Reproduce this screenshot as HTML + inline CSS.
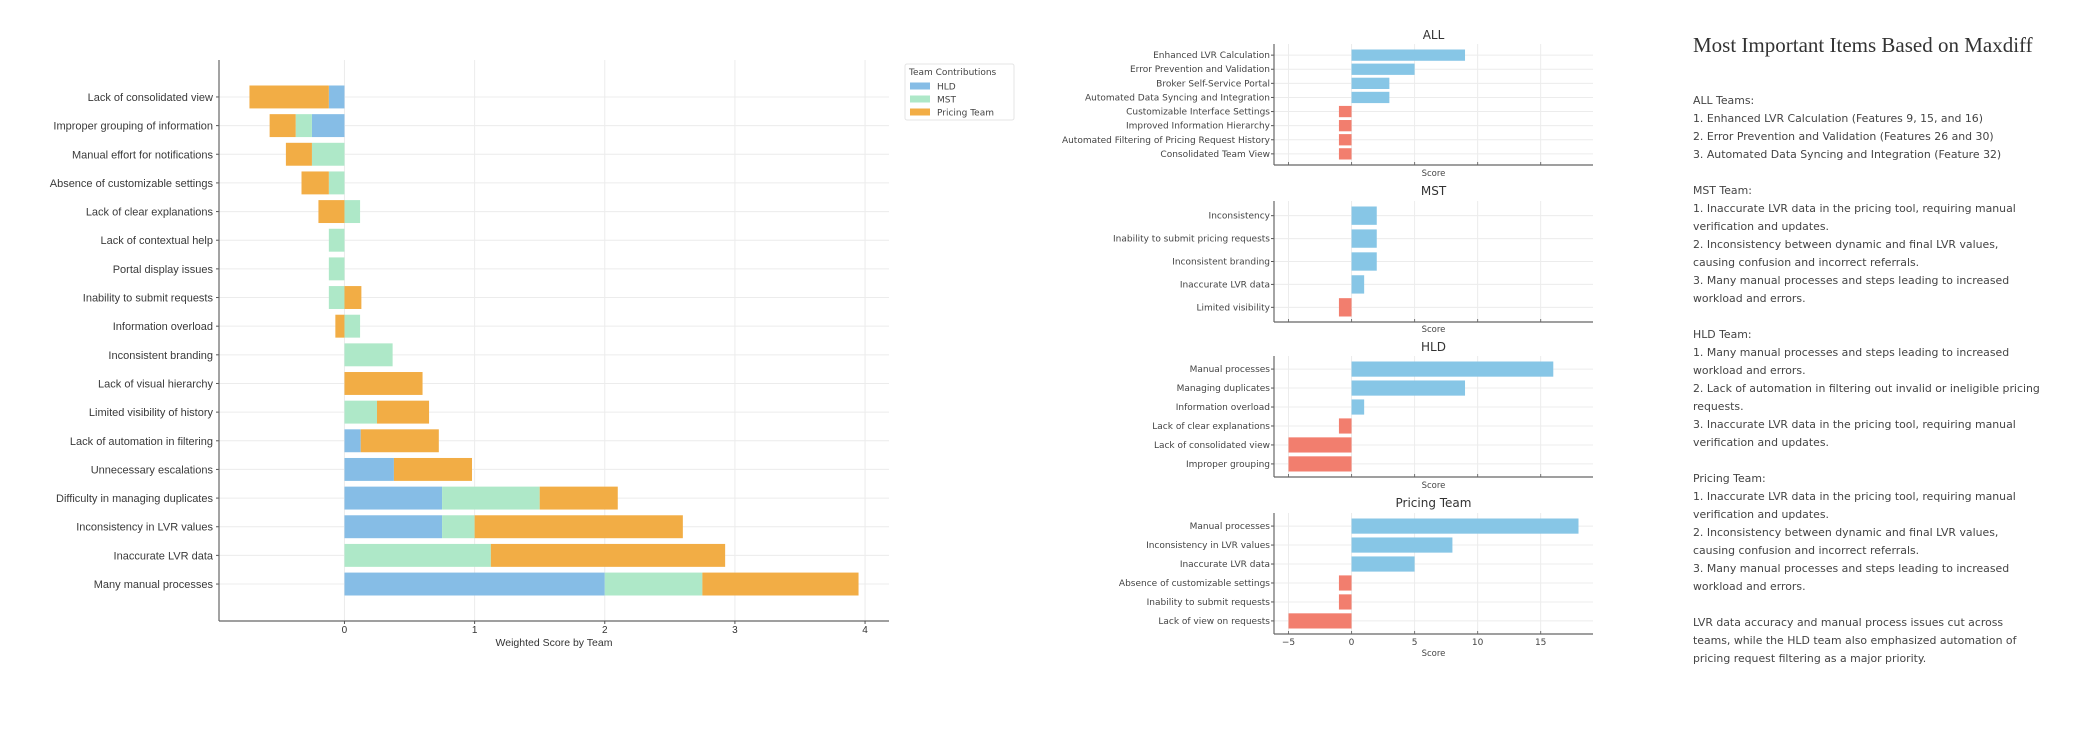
<!DOCTYPE html>
<html><head><meta charset="utf-8"><style>
body{margin:0;background:#fff;width:2099px;height:736px;overflow:hidden;position:relative}
svg{position:absolute;left:0;top:0}
#notes{position:absolute;left:1693px;top:91.5px;font-family:"DejaVu Sans",sans-serif;font-size:10.9px;line-height:18px;color:#444;white-space:pre-line}
#ttl{position:absolute;left:1693px;top:32px;font-family:"Liberation Serif",serif;font-size:21px;color:#333;line-height:26px}
</style></head><body>
<svg id="chart" width="2099" height="736"></svg>
<div id="ttl">Most Important Items Based on Maxdiff</div>
<div id="notes">ALL Teams:
1. Enhanced LVR Calculation (Features 9, 15, and 16)
2. Error Prevention and Validation (Features 26 and 30)
3. Automated Data Syncing and Integration (Feature 32)

MST Team:
1. Inaccurate LVR data in the pricing tool, requiring manual
verification and updates.
2. Inconsistency between dynamic and final LVR values,
causing confusion and incorrect referrals.
3. Many manual processes and steps leading to increased
workload and errors.

HLD Team:
1. Many manual processes and steps leading to increased
workload and errors.
2. Lack of automation in filtering out invalid or ineligible pricing
requests.
3. Inaccurate LVR data in the pricing tool, requiring manual
verification and updates.

Pricing Team:
1. Inaccurate LVR data in the pricing tool, requiring manual
verification and updates.
2. Inconsistency between dynamic and final LVR values,
causing confusion and incorrect referrals.
3. Many manual processes and steps leading to increased
workload and errors.

LVR data accuracy and manual process issues cut across
teams, while the HLD team also emphasized automation of
pricing request filtering as a major priority.</div>
<script>
const categories=["Lack of consolidated view","Improper grouping of information","Manual effort for notifications","Absence of customizable settings","Lack of clear explanations","Lack of contextual help","Portal display issues","Inability to submit requests","Information overload","Inconsistent branding","Lack of visual hierarchy","Limited visibility of history","Lack of automation in filtering","Unnecessary escalations","Difficulty in managing duplicates","Inconsistency in LVR values","Inaccurate LVR data","Many manual processes"];
const hldValues=[-0.12,-0.25,0,0,0,0,0,0,0,0,0,0,0.125,0.38,0.75,0.75,0,2.0];
const mstValues=[0,-0.125,-0.25,-0.12,0.12,-0.12,-0.12,-0.12,0.12,0.37,0,0.25,0,0,0.75,0.25,1.125,0.75];
const pricingValues=[-0.61,-0.2,-0.2,-0.21,-0.2,0,0,0.13,-0.07,0,0.6,0.4,0.6,0.6,0.6,1.6,1.8,1.2];
const mainTicks=[0,1,2,3,4];

const allLabels=["Enhanced LVR Calculation","Error Prevention and Validation","Broker Self-Service Portal","Automated Data Syncing and Integration","Customizable Interface Settings","Improved Information Hierarchy","Automated Filtering of Pricing Request History","Consolidated Team View"];
const allScores=[9,5,3,3,-1,-1,-1,-1];
const mstLabels=["Inconsistency","Inability to submit pricing requests","Inconsistent branding","Inaccurate LVR data","Limited visibility"];
const mstScores=[2,2,2,1,-1];
const hldLabels=["Manual processes","Managing duplicates","Information overload","Lack of clear explanations","Lack of consolidated view","Improper grouping"];
const hldScores=[16,9,1,-1,-5,-5];
const pricingLabels=["Manual processes","Inconsistency in LVR values","Inaccurate LVR data","Absence of customizable settings","Inability to submit requests","Lack of view on requests"];
const pricingScores=[18,8,5,-1,-1,-5];
const smallTicks=[-5,0,5,10,15];

const svg=document.getElementById('chart');
const NS='http://www.w3.org/2000/svg';
function mk(tag,attrs,parent){const e=document.createElementNS(NS,tag);for(const k in attrs)e.setAttribute(k,attrs[k]);(parent||svg).appendChild(e);return e;}
function txt(s,attrs,parent){const e=mk('text',attrs,parent);e.textContent=s;return e;}
function domainOf(mins,maxs){const lo=Math.min(...mins),hi=Math.max(...maxs),m=(hi-lo)*0.05;return [lo-m,hi+m];}

// ---------- main stacked chart ----------
(function(){
  const L=219,R=889,T=60,B=621,n=categories.length;
  const segsAll=categories.map((c,i)=>{let pos=0,neg=0;const out=[];[[hldValues[i],'#86bde6'],[mstValues[i],'#aee8c8'],[pricingValues[i],'#f2ad45']].forEach(([v,col])=>{if(v>=0){out.push([pos,pos+v,col]);pos+=v;}else{out.push([neg+v,neg,col]);neg+=v;}});return out;});
  const mins=segsAll.map(s=>Math.min(0,...s.map(q=>q[0]))),maxs=segsAll.map(s=>Math.max(0,...s.map(q=>q[1])));
  const [d0,d1]=domainOf(mins,maxs);
  const x=v=>L+(v-d0)/(d1-d0)*(R-L);
  const ext=n-1+0.8,mg=0.05*ext,tot=ext+2*mg,step=(B-T)/tot;
  const y=i=>T+(0.4+mg+i)*step;
  const g=mk('g',{});
  mainTicks.forEach(t=>{const l=mk('line',{x1:x(t),x2:x(t),y1:T,y2:B,stroke:'#ececec','stroke-width':1},g);});
  categories.forEach((c,i)=>{const l=mk('line',{x1:L,x2:R,y1:y(i),y2:y(i),stroke:'#ececec','stroke-width':1},g);});
  segsAll.forEach((segs,i)=>{segs.forEach(([a,b,col])=>{if(b-a<=0)return;const r=mk('rect',{x:x(a),y:y(i)-0.4*step,width:x(b)-x(a),height:0.8*step,fill:col},g);});
    const t=txt(categories[i],{x:L-6,y:y(i)+4,'text-anchor':'end','font-family':'Liberation Sans, sans-serif','font-size':11,fill:'#3a3a3a'},g);
    mk('line',{x1:L-3,x2:L,y1:y(i),y2:y(i),stroke:'#555'},g);});
  mk('line',{x1:L,x2:L,y1:T,y2:B,stroke:'#666','stroke-width':1.2},g);
  mk('line',{x1:L,x2:R,y1:B,y2:B,stroke:'#666','stroke-width':1.2},g);
  mainTicks.forEach(t=>{mk('line',{x1:x(t),x2:x(t),y1:B,y2:B+3,stroke:'#555'},g);const e=txt(String(t),{x:x(t),y:B+12,'text-anchor':'middle','font-family':'Liberation Sans, sans-serif','font-size':10,fill:'#333'},g);});
  const xl=txt('Weighted Score by Team',{x:(L+R)/2,y:B+25,'text-anchor':'middle','font-family':'Liberation Sans, sans-serif','font-size':10.5,fill:'#333'},g);
  // legend
  const lg=mk('g',{});
  mk('rect',{x:905,y:64,width:109,height:56,fill:'#fff',stroke:'#e4e4e4',rx:2},lg);
  txt('Team Contributions',{x:909,y:75,'font-family':'DejaVu Sans, sans-serif','font-size':9,fill:'#444'},lg);
  [['HLD','#86bde6'],['MST','#aee8c8'],['Pricing Team','#f2ad45']].forEach(([s,c],k)=>{const yy=86+k*13;const r=mk('rect',{x:910,y:yy-3.5,width:20,height:7,fill:c},lg);const t=txt(s,{x:937,y:yy+3.5,'font-family':'DejaVu Sans, sans-serif','font-size':9,fill:'#444'},lg);});
})();

// ---------- small panels ----------
function panel(name,title,labels,scores,T,B,titleY,scoreY,showTicks){
  const L=1274,R=1593,n=labels.length;
  const allMin=[...allScores,...mstScores,...hldScores,...pricingScores];
  const [d0,d1]=domainOf([Math.min(0,...allMin)],[Math.max(...allMin)]);
  const x=v=>L+(v-d0)/(d1-d0)*(R-L);
  const ext=n-1+0.8,mg=0.05*ext,tot=ext+2*mg,step=(B-T)/tot;
  const y=i=>T+(0.4+mg+i)*step;
  const g=mk('g',{});
  smallTicks.forEach(t=>{mk('line',{x1:x(t),x2:x(t),y1:T,y2:B,stroke:'#ececec'},g);mk('line',{x1:x(t),x2:x(t),y1:B,y2:B-3,stroke:'#777'},g);});
  labels.forEach((s,i)=>{mk('line',{x1:L,x2:R,y1:y(i),y2:y(i),stroke:'#ececec'},g);
    const v=scores[i];const r=mk('rect',{x:x(Math.min(0,v)),y:y(i)-0.4*step,width:Math.abs(x(v)-x(0)),height:0.8*step,fill:v>=0?'#87c6e6':'#f27e6e'},g);
    mk('line',{x1:L-3,x2:L,y1:y(i),y2:y(i),stroke:'#555'},g);
    const t=txt(s,{x:L-4,y:y(i)+3,'text-anchor':'end','font-family':'DejaVu Sans, sans-serif','font-size':9,fill:'#444'},g);});
  mk('line',{x1:L,x2:L,y1:T,y2:B,stroke:'#666','stroke-width':1.2},g);
  mk('line',{x1:L,x2:R,y1:B,y2:B,stroke:'#666','stroke-width':1.2},g);
  const tt=txt(title,{x:(L+R)/2,y:titleY+4,'text-anchor':'middle','font-family':'DejaVu Sans, sans-serif','font-size':12,fill:'#333'},g);
  const sc=txt('Score',{x:(L+R)/2,y:scoreY+3,'text-anchor':'middle','font-family':'DejaVu Sans, sans-serif','font-size':8.5,fill:'#444'},g);
  if(showTicks)smallTicks.forEach(t=>{const e=txt(t<0?'\u2212'+Math.abs(t):String(t),{x:x(t),y:B+11,'text-anchor':'middle','font-family':'DejaVu Sans, sans-serif','font-size':9,fill:'#444'},g);});
}
panel('all-panel','ALL',allLabels,allScores,44,165,35,173,false);
panel('mst-panel','MST',mstLabels,mstScores,201,322,191,329,false);
panel('hld-panel','HLD',hldLabels,hldScores,356,477,347,485,false);
panel('pricing-panel','Pricing Team',pricingLabels,pricingScores,513,634,503,653,true);
</script>
</body></html>
